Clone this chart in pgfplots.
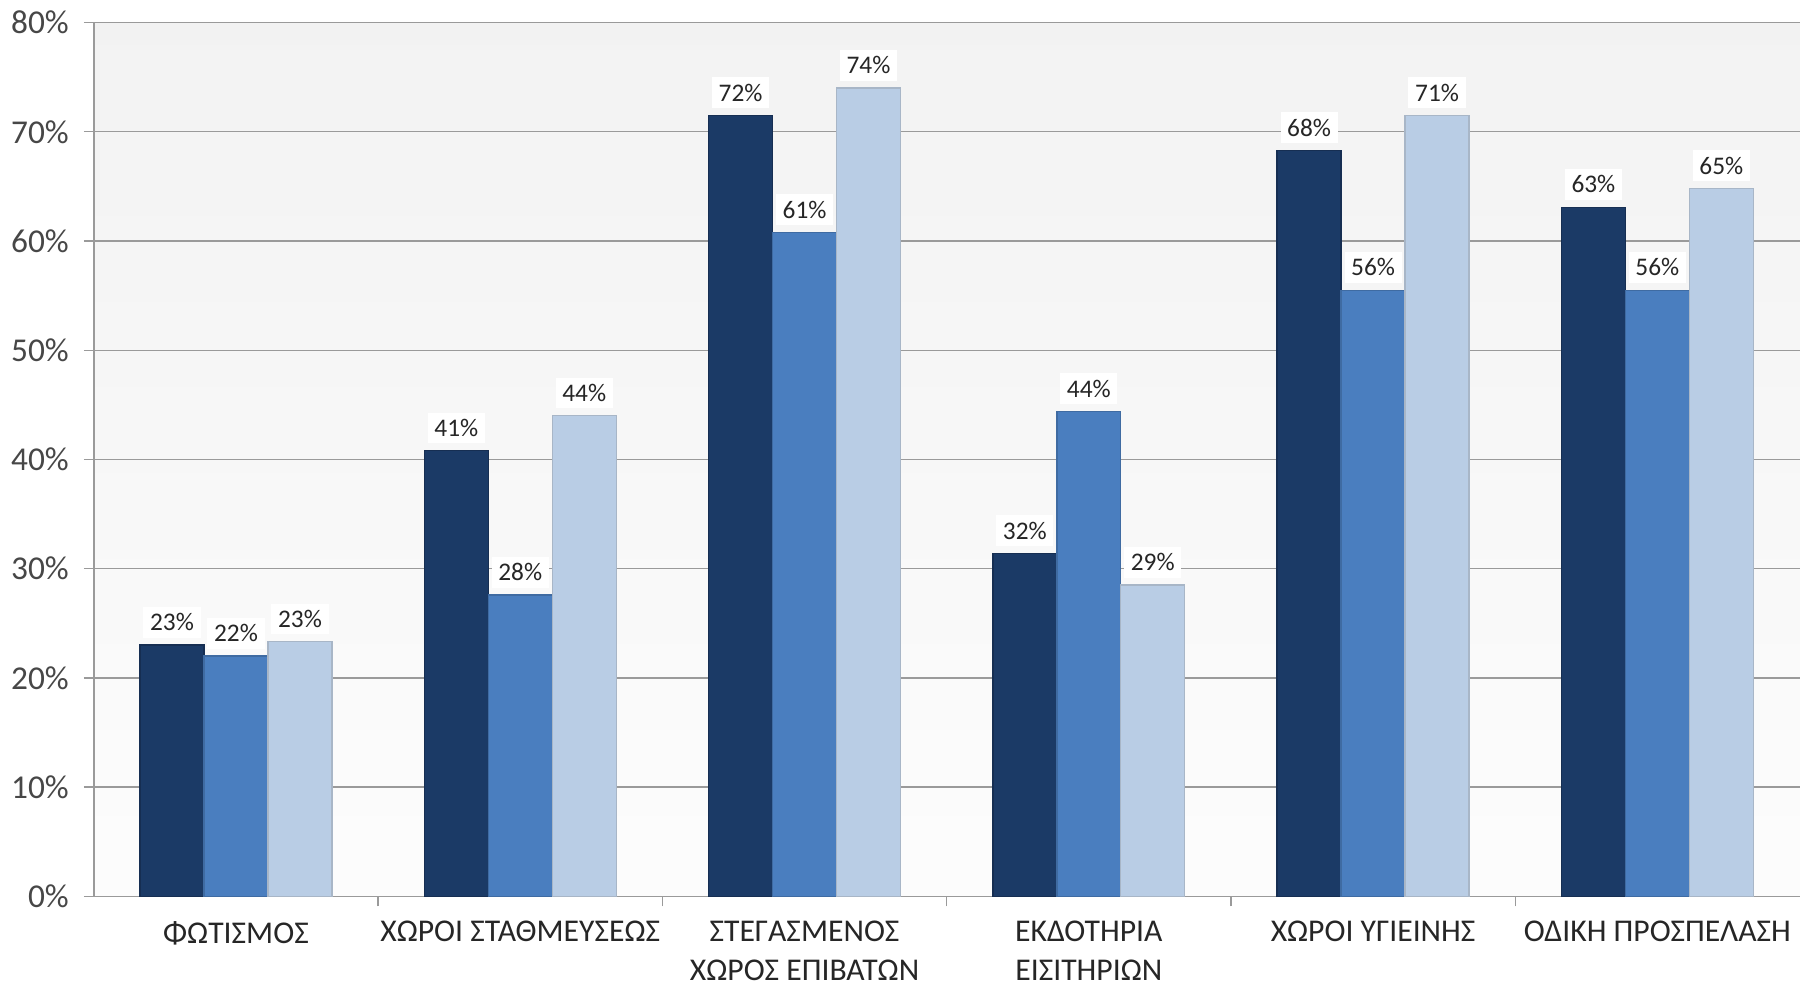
\documentclass[border=0pt]{standalone}
\usepackage{pgfplots}
\pgfplotsset{compat=1.18}
\usepackage{pgfplotstable}
\usepackage{fontspec}
\setmainfont{Carlito}

\definecolor{darkbar}{HTML}{1B3A66}
\definecolor{midbar}{HTML}{4A7EBF}
\definecolor{lightbar}{HTML}{B9CDE5}
\definecolor{txt}{HTML}{262626}
\definecolor{gridc}{HTML}{9A9A9A}

% x = category, y = bar height, lab = printed label
\pgfplotstableread{
x y lab
0 23.0 23
1 40.8 41
2 71.5 72
3 31.4 32
4 68.3 68
5 63.1 63
}\seriesA
\pgfplotstableread{
x y lab
0 22.0 22
1 27.6 28
2 60.8 61
3 44.4 44
4 55.5 56
5 55.5 56
}\seriesB
\pgfplotstableread{
x y lab
0 23.3 23
1 44.0 44
2 74.0 74
3 28.5 29
4 71.5 71
5 64.8 65
}\seriesC

\begin{document}
\begin{tikzpicture}
\begin{axis}[
    scale only axis,
    width=511.5pt, height=262pt,
    ybar, bar width=0.225,
    xmin=-0.5, xmax=5.5,
    ymin=0, ymax=80,
    ytick={0,10,...,80},
    yticklabel={\pgfmathprintnumber{\tick}\%},
    /pgf/number format/assume math mode=true,
    xtick={0,...,5},
    xticklabels={ΦΩΤΙΣΜΟΣ, ΧΩΡΟΙ ΣΤΑΘΜΕΥΣΕΩΣ, {ΣΤΕΓΑΣΜΕΝΟΣ\\ΧΩΡΟΣ ΕΠΙΒΑΤΩΝ}, {ΕΚΔΟΤΗΡΙΑ\\ΕΙΣΙΤΗΡΙΩΝ}, ΧΩΡΟΙ ΥΓΙΕΙΝΗΣ, ΟΔΙΚΗ ΠΡΟΣΠΕΛΑΣΗ},
    xticklabel style={align=center, font=\fontsize{9.5}{11.5}\selectfont, text=txt, yshift=-1pt},
    yticklabel style={font=\fontsize{10}{11}\selectfont, text=txt!85, xshift=-1pt},
    major x tick style={draw=none},
    minor xtick={0.5,1.5,...,4.5},
    minor tick length=3pt,
    major tick length=3pt,
    tick align=outside,
    tick style={gridc, thin},
    axis x line*=bottom, axis y line*=left,
    axis line style={gridc, thin},
    ymajorgrids, grid style={gridc, thin},
    axis background/.style={top color=black!5, bottom color=black!1},
    point meta=explicit,
    nodes near coords={\pgfmathprintnumber{\pgfplotspointmeta}\%},
    every node near coord/.append style={font=\fontsize{7.6}{9}\selectfont, text=txt, fill=white, inner sep=2pt, yshift=2pt},
]
\addplot[fill=darkbar, draw=darkbar!80!black, bar shift=-0.225] table[x=x, y=y, meta=lab] {\seriesA};
\addplot[fill=midbar, draw=midbar!85!black, bar shift=0] table[x=x, y=y, meta=lab] {\seriesB};
\addplot[fill=lightbar, draw=lightbar!70!gray, bar shift=0.225] table[x=x, y=y, meta=lab] {\seriesC};
\end{axis}
\end{tikzpicture}
\end{document}
